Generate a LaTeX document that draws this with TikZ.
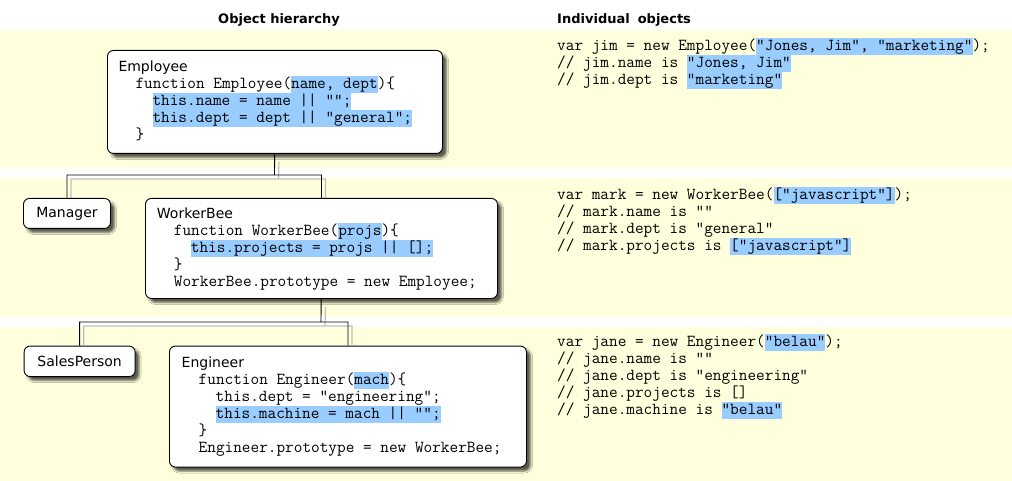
\documentclass[tikz,border=0pt]{standalone}
\usepackage{fontspec}
\setsansfont{DejaVu Sans}
\usepackage{tikz}
\usetikzlibrary{positioning}
\usetikzlibrary{shadows.blur}

\definecolor{bandyellow}{RGB}{255,255,221}
\definecolor{hlblue}{RGB}{153,204,255}
\newcommand{\cstrut}{\rule[-4.5pt]{0pt}{17pt}}
\newcommand{\hl}[1]{{\setlength{\fboxsep}{0pt}\colorbox{hlblue}{\cstrut#1}}}
\newcommand{\boxtitle}{\sffamily\fontsize{14}{17}\selectfont}

\begin{document}
\begin{tikzpicture}
		[x=1pt,y=-1pt,
		classbox/.style={draw,rounded corners=6pt,fill=white,line width=0.9pt,anchor=north west,inner sep=0pt,
			blur shadow={shadow xshift=4pt,shadow yshift=-4pt,shadow blur radius=2pt,shadow opacity=65}},
		codetext/.style={anchor=north west,inner sep=0pt,align=left,
			font={\ttfamily\fontsize{16.8}{17}\selectfont\lineskiplimit=-20pt}},
		heading/.style={anchor=base west,inner sep=0pt,font=\sffamily\bfseries\fontsize{13}{16}\selectfont},
		link/.style={line width=0.9pt},
		linkshadow/.style={line width=1.2pt,draw=gray!50}]
		\useasboundingbox (0,0) rectangle (1012,481);
		
		% background bands
		\fill[bandyellow] (0,30) rectangle (1012,168);
		\fill[bandyellow] (0,178) rectangle (1012,317);
		\fill[bandyellow] (0,327) rectangle (1012,481);
		
		\node[heading] (hier) at (218,24) {Object hierarchy};
		\node[heading] (objs) at (557,24) {Individual\hspace{8pt}objects};
		
		% tree joints
		\coordinate (j1) at (274.5,175);
		\coordinate (j2) at (321,322);
		
		% class boxes
		\node[classbox,minimum width=335pt,minimum height=103pt] (employee) at (107,50) {};
		\node[classbox,minimum width=87pt,minimum height=30pt,font=\boxtitle] (manager) at (23,198) {Manager};
		\node[classbox,minimum width=352pt,minimum height=100pt] (workerbee) at (145,198) {};
		\node[classbox,minimum width=111pt,minimum height=30.5pt,font=\boxtitle] (salesperson) at (23.7,345.6) {SalesPerson};
		\node[classbox,minimum width=357pt,minimum height=121pt] (engineer) at (169,345.6) {};
		
		% tree links, shadow first
		\foreach \up/\left/\right/\joint in {employee/manager/workerbee/j1, workerbee/salesperson/engineer/j2}
		{
			\draw[linkshadow] ([shift={(4,8)}]\up.south) -- ([shift={(4,4)}]\joint)
				([shift={(4,0)}]\left.north) |- ([shift={(4,4)}]\joint) -| ([shift={(4,0)}]\right.north);
			\draw[link] (\up) -- (\joint) (\left.north) |- (\joint) -| (\right.north);
		}
		
		\node[codetext] (employee-code) at ([shift={(11.3,9.2)}]employee.north west)
			{{\boxtitle Employee}\cstrut\\
			\hspace*{17pt}function Employee(\hl{name, dept})\{\cstrut\\
			\hspace*{34pt}\hl{this.name = name || "";}\\
			\hspace*{34pt}\hl{this.dept = dept || "general";}\\
			\hspace*{17pt}\}\cstrut};
		\node[codetext] (workerbee-code) at ([shift={(11.7,7.8)}]workerbee.north west)
			{{\boxtitle WorkerBee}\cstrut\\
			\hspace*{17pt}function WorkerBee(\hl{projs})\{\cstrut\\
			\hspace*{34pt}\hl{this.projects = projs || [];}\\
			\hspace*{17pt}\}\cstrut\\
			\hspace*{17pt}WorkerBee.prototype = new Employee;\cstrut};
		\node[codetext] (engineer-code) at ([shift={(12.5,8.9)}]engineer.north west)
			{{\boxtitle Engineer}\cstrut\\
			\hspace*{17pt}function Engineer(\hl{mach})\{\cstrut\\
			\hspace*{34pt}this.dept = "engineering";\cstrut\\
			\hspace*{34pt}\hl{this.machine = mach || "";}\\
			\hspace*{17pt}\}\cstrut\\
			\hspace*{17pt}Engineer.prototype = new WorkerBee;\cstrut};
		
		% instances
		\node[codetext] (jim) at (557,37.5)
			{var jim = new Employee(\hl{"Jones, Jim", "marketing"});\cstrut\\
			// jim.name is \hl{"Jones, Jim"}\\
			// jim.dept is \hl{"marketing"}};
		\node[codetext] (mark) at (557,186.5)
			{var mark = new WorkerBee(\hl{["javascript"]});\cstrut\\
			// mark.name is ""\cstrut\\
			// mark.dept is "general"\cstrut\\
			// mark.projects is \hl{["javascript"]}};
		\node[codetext] (jane) at (557,334.2)
			{var jane = new Engineer(\hl{"belau"});\cstrut\\
			// jane.name is ""\cstrut\\
			// jane.dept is "engineering"\cstrut\\
			// jane.projects is []\cstrut\\
			// jane.machine is \hl{"belau"}};
\end{tikzpicture}
\end{document}
